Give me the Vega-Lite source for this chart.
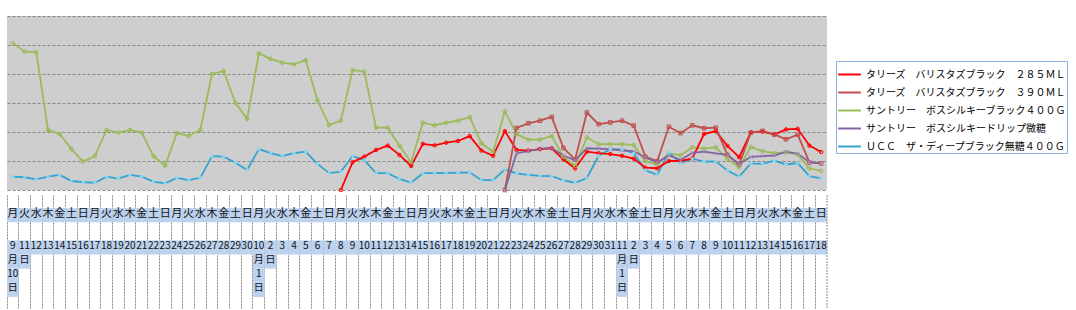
{
  "$schema": "https://vega.github.io/schema/vega-lite/v6.json",
  "background": "white",
  "padding": {"left": 7, "top": 16, "right": 2, "bottom": 2},
  "spacing": 0,
  "resolve": {"scale": {"x": "independent", "y": "independent"}},
  "config": {"view": {"stroke": null}, "font": "Noto Sans CJK JP", "axis": {"minExtent": 0}},
  "datasets": {
    "names": [
      {"s": "r", "name": "タリーズ　バリスタズブラック　２８５ＭＬ"},
      {"s": "k", "name": "タリーズ　バリスタズブラック　３９０ＭＬ"},
      {"s": "g", "name": "サントリー　ボスシルキーブラック４００Ｇ"},
      {"s": "p", "name": "サントリー　ボスシルキードリップ微糖"},
      {"s": "u", "name": "ＵＣＣ　ザ・ディープブラック無糖４００Ｇ"}
    ],
    "days": [
      {"d": "9/10", "wd": "月", "l1": "9", "l2": "月", "l3": "10", "l4": "日", "g": 506, "u": 46},
      {"d": "9/11", "wd": "火", "l1": "11", "l2": "日", "g": 477, "u": 44},
      {"d": "9/12", "wd": "水", "l1": "12", "g": 475, "u": 37},
      {"d": "9/13", "wd": "木", "l1": "13", "g": 207, "u": 46},
      {"d": "9/14", "wd": "金", "l1": "14", "g": 193, "u": 52},
      {"d": "9/15", "wd": "土", "l1": "15", "g": 141, "u": 31},
      {"d": "9/16", "wd": "日", "l1": "16", "g": 98, "u": 27},
      {"d": "9/17", "wd": "月", "l1": "17", "g": 117, "u": 25},
      {"d": "9/18", "wd": "火", "l1": "18", "g": 207, "u": 46},
      {"d": "9/19", "wd": "水", "l1": "19", "g": 198, "u": 39},
      {"d": "9/20", "wd": "木", "l1": "20", "g": 207, "u": 52},
      {"d": "9/21", "wd": "金", "l1": "21", "g": 198, "u": 46},
      {"d": "9/22", "wd": "土", "l1": "22", "g": 117, "u": 29},
      {"d": "9/23", "wd": "日", "l1": "23", "g": 84, "u": 23},
      {"d": "9/24", "wd": "月", "l1": "24", "g": 196, "u": 42},
      {"d": "9/25", "wd": "火", "l1": "25", "g": 187, "u": 34},
      {"d": "9/26", "wd": "水", "l1": "26", "g": 207, "u": 42},
      {"d": "9/27", "wd": "木", "l1": "27", "g": 400, "u": 117},
      {"d": "9/28", "wd": "金", "l1": "28", "g": 410, "u": 115},
      {"d": "9/29", "wd": "土", "l1": "29", "g": 301, "u": 94},
      {"d": "9/30", "wd": "日", "l1": "30", "g": 245, "u": 69},
      {"d": "10/1", "wd": "月", "l1": "10", "l2": "月", "l3": "1", "l4": "日", "g": 471, "u": 141},
      {"d": "10/2", "wd": "火", "l1": "2", "l2": "日", "g": 452, "u": 127},
      {"d": "10/3", "wd": "水", "l1": "3", "g": 439, "u": 117},
      {"d": "10/4", "wd": "木", "l1": "4", "g": 433, "u": 127},
      {"d": "10/5", "wd": "金", "l1": "5", "g": 448, "u": 132},
      {"d": "10/6", "wd": "土", "l1": "6", "g": 310, "u": 90},
      {"d": "10/7", "wd": "日", "l1": "7", "g": 224, "u": 58},
      {"d": "10/8", "wd": "月", "l1": "8", "r": 0, "g": 239, "u": 63},
      {"d": "10/9", "wd": "火", "l1": "9", "r": 96, "g": 414, "u": 117},
      {"d": "10/10", "wd": "水", "l1": "10", "r": 115, "g": 408, "u": 103},
      {"d": "10/11", "wd": "木", "l1": "11", "r": 138, "g": 215, "u": 58},
      {"d": "10/12", "wd": "金", "l1": "12", "r": 153, "g": 215, "u": 58},
      {"d": "10/13", "wd": "土", "l1": "13", "r": 121, "g": 153, "u": 38},
      {"d": "10/14", "wd": "日", "l1": "14", "r": 83, "g": 96, "u": 25},
      {"d": "10/15", "wd": "月", "l1": "15", "r": 159, "g": 232, "u": 58},
      {"d": "10/16", "wd": "火", "l1": "16", "r": 154, "g": 223, "u": 58},
      {"d": "10/17", "wd": "水", "l1": "17", "r": 163, "g": 232, "u": 58},
      {"d": "10/18", "wd": "木", "l1": "18", "r": 169, "g": 239, "u": 60},
      {"d": "10/19", "wd": "金", "l1": "19", "r": 186, "g": 251, "u": 61},
      {"d": "10/20", "wd": "土", "l1": "20", "r": 136, "g": 161, "u": 34},
      {"d": "10/21", "wd": "日", "l1": "21", "r": 118, "g": 132, "u": 34},
      {"d": "10/22", "wd": "月", "l1": "22", "r": 203, "k": 0, "g": 271, "p": 0, "u": 71},
      {"d": "10/23", "wd": "火", "l1": "23", "r": 138, "k": 214, "g": 193, "p": 127, "u": 57},
      {"d": "10/24", "wd": "水", "l1": "24", "r": 136, "k": 230, "g": 174, "p": 134, "u": 52},
      {"d": "10/25", "wd": "木", "l1": "25", "r": 141, "k": 239, "g": 174, "p": 142, "u": 49},
      {"d": "10/26", "wd": "金", "l1": "26", "r": 144, "k": 252, "g": 186, "p": 145, "u": 48},
      {"d": "10/27", "wd": "土", "l1": "27", "r": 105, "k": 145, "g": 115, "p": 119, "u": 33},
      {"d": "10/28", "wd": "日", "l1": "28", "r": 74, "k": 105, "g": 83, "p": 102, "u": 25},
      {"d": "10/29", "wd": "月", "l1": "29", "r": 132, "k": 267, "g": 181, "p": 144, "u": 41},
      {"d": "10/30", "wd": "火", "l1": "30", "r": 127, "k": 227, "g": 158, "p": 143, "u": 118},
      {"d": "10/31", "wd": "水", "l1": "31", "r": 124, "k": 233, "g": 158, "p": 140, "u": 140},
      {"d": "11/1", "wd": "木", "l1": "11", "l2": "月", "l3": "1", "l4": "日", "r": 118, "k": 239, "g": 158, "p": 137, "u": 140},
      {"d": "11/2", "wd": "金", "l1": "2", "l2": "日", "r": 108, "k": 222, "g": 155, "p": 133, "u": 127},
      {"d": "11/3", "wd": "土", "l1": "3", "r": 77, "k": 115, "g": 99, "p": 112, "u": 68},
      {"d": "11/4", "wd": "日", "l1": "4", "r": 75, "k": 99, "g": 88, "p": 95, "u": 52},
      {"d": "11/5", "wd": "月", "l1": "5", "r": 100, "k": 218, "g": 126, "p": 119, "u": 129},
      {"d": "11/6", "wd": "火", "l1": "6", "r": 100, "k": 196, "g": 120, "p": 104, "u": 92},
      {"d": "11/7", "wd": "水", "l1": "7", "r": 109, "k": 223, "g": 147, "p": 128, "u": 108},
      {"d": "11/8", "wd": "木", "l1": "8", "r": 193, "k": 213, "g": 143, "p": 132, "u": 98},
      {"d": "11/9", "wd": "金", "l1": "9", "r": 203, "k": 215, "g": 147, "p": 126, "u": 99},
      {"d": "11/10", "wd": "土", "l1": "10", "r": 152, "k": 121, "g": 108, "p": 121, "u": 67},
      {"d": "11/11", "wd": "日", "l1": "11", "r": 113, "k": 87, "g": 78, "p": 90, "u": 46},
      {"d": "11/12", "wd": "月", "l1": "12", "r": 199, "k": 198, "g": 148, "p": 114, "u": 92},
      {"d": "11/13", "wd": "火", "l1": "13", "r": 201, "k": 204, "g": 134, "p": 117, "u": 90},
      {"d": "11/14", "wd": "水", "l1": "14", "r": 191, "k": 192, "g": 127, "p": 119, "u": 101},
      {"d": "11/15", "wd": "木", "l1": "15", "r": 209, "k": 175, "g": 130, "p": 132, "u": 88},
      {"d": "11/16", "wd": "金", "l1": "16", "r": 211, "k": 191, "g": 123, "p": 125, "u": 93},
      {"d": "11/17", "wd": "土", "l1": "17", "r": 153, "k": 95, "g": 74, "p": 97, "u": 48},
      {"d": "11/18", "wd": "日", "l1": "18", "r": 131, "k": 92, "g": 66, "p": 92, "u": 40}
    ]
  },
  "vconcat": [
    {
      "width": 820,
      "height": 174,
      "view": {"fill": "#cecece", "stroke": null},
      "data": {"name": "days"},
      "transform": [
        {"fold": ["r", "k", "g", "p", "u"], "as": ["s", "v"]},
        {"filter": "isValid(datum.v)"},
        {"lookup": "s", "from": {"data": {"name": "names"}, "key": "s", "fields": ["name"]}}
      ],
      "encoding": {
        "x": {"field": "d", "type": "ordinal", "sort": null, "axis": null},
        "y": {
          "field": "v", "type": "quantitative",
          "scale": {"domain": [0, 600], "nice": false},
          "axis": {"labels": false, "ticks": false, "domain": false, "title": null, "grid": true,
                   "values": [0, 100, 200, 300, 400, 500, 600], "gridColor": "#858585", "gridDash": [3, 2], "minExtent": 0, "maxExtent": 0}
        }
      },
      "layer": [
        {
          "mark": {"type": "line", "strokeWidth": 1.8},
          "encoding": {
            "color": {
              "field": "name", "type": "nominal",
              "scale": {
                "domain": ["タリーズ　バリスタズブラック　２８５ＭＬ", "タリーズ　バリスタズブラック　３９０ＭＬ", "サントリー　ボスシルキーブラック４００Ｇ", "サントリー　ボスシルキードリップ微糖", "ＵＣＣ　ザ・ディープブラック無糖４００Ｇ"],
                "range": ["#ff0000", "#c0504d", "#9bbb59", "#8064a2", "#33a3cf"]
              },
              "legend": {
                "orient": "none", "legendX": 829, "legendY": 45, "title": null,
                "symbolType": "stroke", "symbolSize": 520, "symbolStrokeWidth": 2,
                "labelFont": "Noto Sans CJK JP", "labelFontSize": 10, "labelColor": "#000000",
                "labelLimit": 400, "labelOffset": 4, "rowPadding": 0, "padding": 1,
                "strokeColor": "#8db3e2", "fillColor": "white"
              }
            }
          }
        },
        {
          "mark": {"type": "point", "filled": false, "strokeWidth": 1, "opacity": 1},
          "encoding": {
            "stroke": {
              "field": "s", "type": "nominal", "legend": null,
              "scale": {"domain": ["r", "k", "g", "p", "u"], "range": ["#ff0000", "#c0504d", "#9bbb59", "#a08cc0", "#8fd8f0"]}
            },
            "shape": {
              "field": "s", "type": "nominal", "legend": null,
              "scale": {
                "domain": ["r", "k", "g", "p", "u"],
                "range": ["circle", "square", "circle", "M-1,-1L1,1M-1,1L1,-1", "M-1,0L1,0M0,-1L0,1M-0.7,-0.7L0.7,0.7M-0.7,0.7L0.7,-0.7"]
              }
            },
            "size": {
              "field": "s", "type": "nominal", "legend": null,
              "scale": {"domain": ["r", "k", "g", "p", "u"], "range": [12, 16, 8, 40, 55]}
            }
          }
        }
      ]
    },
    {
      "width": 820,
      "height": 113,
      "data": {"name": "days"},
      "transform": [
        {"fold": ["wd", "l1", "l2", "l3", "l4"], "as": ["r", "t"]},
        {"filter": "isValid(datum.t)"}
      ],
      "encoding": {
        "x": {
          "field": "d", "type": "ordinal", "sort": null,
          "scale": {"paddingInner": 0, "paddingOuter": 0},
          "axis": {"orient": "top", "labels": false, "ticks": false, "domain": false, "title": null, "grid": true,
                   "bandPosition": 0, "gridDash": [2, 1], "gridColor": "#8a8a8a", "minExtent": 0, "maxExtent": 0}
        }
      },
      "layer": [
        {
          "transform": [{"filter": "datum.r == 'wd'"}],
          "mark": {"type": "bar", "color": "#bcd2ee", "yOffset": -1},
          "encoding": {"y": {"field": "r", "type": "nominal", "scale": {"domain": ["t0", "wd", "g", "l1", "l2", "l3", "l4", "t7"], "paddingInner": 0, "paddingOuter": 0}, "axis": null}}
        },
        {
          "transform": [{"filter": "datum.r != 'wd'"}],
          "mark": {"type": "bar", "color": "#bcd2ee", "yOffset": 3},
          "encoding": {"y": {"field": "r", "type": "nominal", "axis": null}}
        },
        {
          "transform": [{"filter": "datum.r == 'wd'"}],
          "mark": {"type": "text", "font": "Noto Sans CJK JP", "fontSize": 11, "color": "#111111", "yOffset": -2.5},
          "encoding": {"y": {"field": "r", "type": "nominal", "axis": null}, "text": {"field": "t"}}
        },
        {
          "transform": [{"filter": "datum.r != 'wd'"}],
          "mark": {"type": "text", "font": "Noto Sans CJK JP", "fontSize": 10, "color": "#111111", "yOffset": 1.5},
          "encoding": {"y": {"field": "r", "type": "nominal", "axis": null}, "text": {"field": "t"}}
        },
        {
          "data": {"values": [{}]},
          "mark": {"type": "rule", "strokeDash": [2, 1], "color": "#8a8a8a", "strokeWidth": 1},
          "encoding": {"x": {"datum": "11/18", "bandPosition": 1}}
        }
      ]
    }
  ]
}
